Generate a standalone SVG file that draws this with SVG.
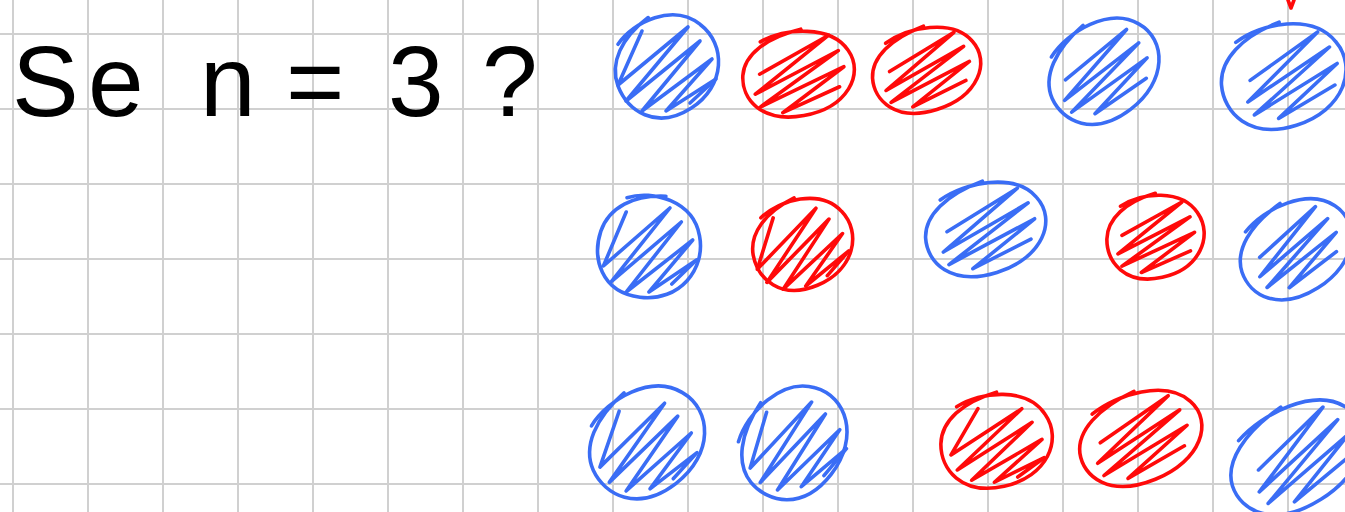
<svg xmlns="http://www.w3.org/2000/svg" xmlns:xlink="http://www.w3.org/1999/xlink" width="1345" height="512" viewBox="0 0 1345 512">
<style>
.grid{stroke:#d0d0d0;stroke-width:2;fill:none}
.b{stroke:#3a6df5;fill:none;stroke-width:3.6;stroke-linecap:round;stroke-linejoin:round}
.r{stroke:#ff0a0a;fill:none;stroke-width:3.6;stroke-linecap:round;stroke-linejoin:round}
.t{font-family:"Liberation Sans",Arial,sans-serif;font-size:100px;fill:#000}
</style>
<defs>
<path id="zA" vector-effect="non-scaling-stroke" d="M-24,-34 L-48,20 L22,-38 L-40,36 L34,-24 L-24,46 L46,-6 L0,46 L50,14 L24,38"/>
<path id="zB" vector-effect="non-scaling-stroke" d="M-36,-8 L36,-36 L-44,14 L42,-16 L-42,30 L44,4 L-22,42 L36,26"/>
<path id="eO" vector-effect="non-scaling-stroke" d="M-30,-42 C-6,-54 36,-50 48,-18 C60,12 40,48 0,50 C-40,52 -54,20 -50,-6 C-46,-30 -24,-46 8,-50"/>
</defs>
<rect width="1345" height="512" fill="#fff"/>
<g id="grid" class="grid">
<path d="M13,0V512M88,0V512M163,0V512M238,0V512M313,0V512M388,0V512M463,0V512M538,0V512M613,0V512M688,0V512M763,0V512M838,0V512M913,0V512M988,0V512M1063,0V512M1138,0V512M1213,0V512M1288,0V512"/>
<path d="M0,34H1345M0,109H1345M0,184H1345M0,259H1345M0,334H1345M0,409H1345M0,484H1345"/>
</g>
<g id="title"><text class="t" x="12 88 150 200 262 286 346 388 452 482" y="116">Se n = 3 ?</text></g>
<g id="row1">
<g id="c11" class="b"><use xlink:href="#eO" transform="translate(666,65) rotate(-30) scale(1.04,1.0)"/><use xlink:href="#zA" transform="translate(666,65)"/></g>
<g id="c12" class="r"><use xlink:href="#eO" transform="translate(798,73) rotate(-8) scale(1.1,0.86)"/><use xlink:href="#zB" transform="translate(798,73) rotate(-12) scale(1.05,0.85)"/></g>
<g id="c13" class="r"><use xlink:href="#eO" transform="translate(926,69) rotate(-15) scale(1.08,0.84)"/><use xlink:href="#zB" transform="translate(926,69) rotate(-14) scale(1.0,0.8)"/></g>
<g id="c14" class="b"><use xlink:href="#eO" transform="translate(1103,70) rotate(-35) scale(1.16,0.96)"/><use xlink:href="#zB" transform="translate(1103,72) rotate(-22) scale(1.05,0.85)"/></g>
<g id="c15" class="b"><use xlink:href="#eO" transform="translate(1283,75) rotate(-15) scale(1.24,1.04)"/><use xlink:href="#zB" transform="translate(1290,75) rotate(-18) scale(1.1,0.9)"/></g>
<path class="r" d="M1288,0 L1291,8 L1294,0"/>
</g>
<g id="row2">
<g id="c21" class="b"><use xlink:href="#eO" transform="translate(649,246) rotate(10) scale(1.0,1.04)"/><use xlink:href="#zA" transform="translate(649,246) scale(0.95,1.0)"/></g>
<g id="c22" class="r"><use xlink:href="#eO" transform="translate(802,243) rotate(-20) scale(1.0,0.9)"/><use xlink:href="#zA" transform="translate(800,245) rotate(-8) scale(0.95,0.9)"/></g>
<g id="c23" class="b"><use xlink:href="#eO" transform="translate(985,228) rotate(-15) scale(1.2,0.92)"/><use xlink:href="#zB" transform="translate(987,228) rotate(-15) scale(1.1,0.85)"/></g>
<g id="c24" class="r"><use xlink:href="#eO" transform="translate(1155,236) rotate(-10) scale(0.96,0.84)"/><use xlink:href="#zB" transform="translate(1155,236) rotate(-10) scale(0.9,0.8)"/></g>
<g id="c25" class="b"><use xlink:href="#eO" transform="translate(1295,248) rotate(-30) scale(1.16,0.92)"/><use xlink:href="#zB" transform="translate(1295,248) rotate(-25) scale(1.0,0.8)"/></g>
</g>
<g id="row3">
<g id="c31" class="b"><use xlink:href="#eO" transform="translate(646,441) rotate(-35) scale(1.2,1.04)"/><use xlink:href="#zA" transform="translate(646,443) rotate(-5)"/></g>
<g id="c32" class="b"><use xlink:href="#eO" transform="translate(793,442) rotate(-50) scale(1.16,1.0)"/><use xlink:href="#zA" transform="translate(795,442) rotate(-8) scale(1.0,0.98)"/></g>
<g id="c33" class="r"><use xlink:href="#eO" transform="translate(996,440) rotate(-10) scale(1.1,0.94)"/><use xlink:href="#zA" transform="translate(998,441) rotate(5) scale(0.95,0.9)"/></g>
<g id="c34" class="r"><use xlink:href="#eO" transform="translate(1140,437) rotate(-20) scale(1.24,0.9)"/><use xlink:href="#zB" transform="translate(1140,437) rotate(-18) scale(1.1,0.85)"/></g>
<g id="c35" class="b"><use xlink:href="#eO" transform="translate(1296,456) rotate(-30) scale(1.4,1.0)"/><use xlink:href="#zB" transform="translate(1300,456) rotate(-28) scale(1.2,0.9)"/></g>
</g>
</svg>
